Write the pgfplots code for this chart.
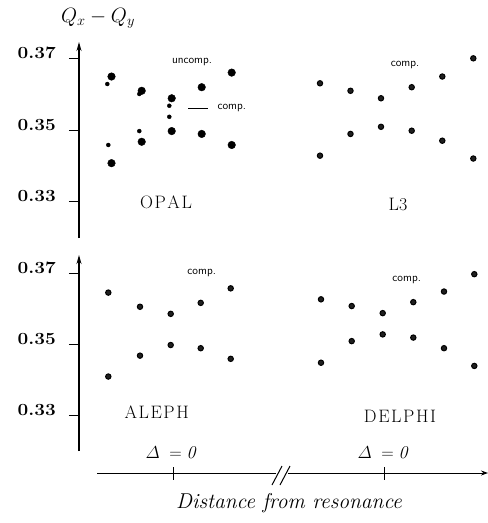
\documentclass[border=0pt]{standalone}
\usepackage{graphicx}
\usepackage{pgfplots}
\pgfplotsset{compat=1.18}
\usetikzlibrary{arrows.meta}
\newcommand\spc[1]{\kern1.6pt}
\begin{document}
\begin{tikzpicture}[x=1pt,y=1pt]
\useasboundingbox (0,0) rectangle (488,-523);
\pgfplotsset{
  panel/.style={
    scale only axis, width=409pt, height=196pt, xmin=79, xmax=488,
    axis x line=none, axis y line*=left,
    y axis line style={line width=1.1pt,-{Stealth[length=9pt,width=5pt]}},
    ytick={0.33,0.35,0.37},
    yticklabels={\scalebox{1.12}[1]{0.33},\scalebox{1.12}[1]{0.35},\scalebox{1.12}[1]{0.37}},
    tick align=outside, major tick length=10pt,
    ytick style={line width=1pt,black},
    yticklabel style={font=\fontsize{17}{20}\selectfont\bfseries, anchor=base east, inner sep=0pt, xshift=-13pt},
    clip=false},
  big/.style={only marks, mark=*, mark size=3.8pt, black},
  small/.style={only marks, mark=*, mark size=2.0pt, black},
  dot/.style={only marks, mark=*, mark size=2.7pt, black, mark options={fill=black!88, draw=black, line width=1pt}},
}
% ---------- top panel: OPAL and L3 ----------
\begin{axis}[panel, at={(79pt,-238pt)}, anchor=south west, ymin=0.31971, ymax=0.37468]
  % OPAL uncompensated
  \addplot[big] coordinates {(111.5,0.3650)(111.5,0.3407)(141.7,0.3610)(141.7,0.3467)(171.7,0.3589)(171.7,0.3497)(201.7,0.3620)(201.7,0.3489)(231.7,0.3661)(231.7,0.3458)};
  % OPAL compensated
  \addplot[small] coordinates {(107.3,0.3629)(108.3,0.3458)(139.3,0.3601)(139.3,0.3497)(169.3,0.3568)(169.3,0.3537)};
  % L3 compensated
  \addplot[dot] coordinates {(320,0.3631)(350.5,0.3610)(381,0.3589)(411.7,0.3620)(442.3,0.3650)(473.3,0.3701)
                             (320,0.3428)(350.5,0.3489)(381,0.3509)(411.7,0.3498)(442.3,0.3470)(473.3,0.3420)};
\end{axis}
% ---------- bottom panel: ALEPH and DELPHI ----------
\begin{axis}[panel, at={(79pt,-451pt)}, anchor=south west, ymin=0.31988, ymax=0.37521]
  \addplot[dot] coordinates {(108.3,0.3646)(140,0.3606)(170.7,0.3586)(200.7,0.3617)(230.7,0.3658)
                             (108.3,0.3409)(140,0.3468)(170.7,0.3498)(200.7,0.3489)(230.7,0.3459)};
  \addplot[dot] coordinates {(321,0.3627)(351.7,0.3608)(382.7,0.3588)(413.3,0.3619)(444,0.3649)(474.3,0.3698)
                             (321,0.3448)(351.7,0.3509)(382.7,0.3528)(413.3,0.3519)(444,0.3489)(474.3,0.3439)};
\end{axis}
% ---------- labels ----------
\node[font=\fontsize{19.5}{23}\selectfont] at (98,-18) {$Q_x - Q_y$};
\node[font=\fontsize{11.5}{13}\selectfont\sffamily] at (192,-62) {uncomp.};
\draw[line width=0.8pt] (188,-108) -- (208,-108);
\node[font=\fontsize{11.5}{13}\selectfont\sffamily, anchor=west] at (214,-108) {comp.};
\node[font=\fontsize{11.5}{13}\selectfont\sffamily] at (405,-65) {comp.};
\node[font=\fontsize{11.5}{13}\selectfont\sffamily] at (201.7,-273) {comp.};
\node[font=\fontsize{11.5}{13}\selectfont\sffamily] at (406.7,-280) {comp.};
\node[font=\fontsize{18}{21}\selectfont] at (166,-202) {O\spc{}P\spc{}A\spc{}L};
\node[font=\fontsize{18}{21}\selectfont] at (398,-204) {L3};
\node[font=\fontsize{18}{21}\selectfont] at (156.7,-411.7) {A\spc{}L\spc{}E\spc{}P\spc{}H};
\node[font=\fontsize{18}{21}\selectfont] at (400,-416) {D\spc{}E\spc{}L\spc{}P\spc{}H\spc{}I};
% ---------- horizontal axis with break ----------
\draw[line width=1pt] (97,-473) -- (276,-473);
\draw[line width=1pt,-{Stealth[length=7pt,width=5pt]}] (288,-473) -- (488,-473);
\draw[line width=1pt] (272,-485) -- (282,-466);
\draw[line width=1pt] (280,-485) -- (290,-466);
\draw[line width=1pt] (173,-467) -- (173,-480);
\draw[line width=1pt] (384,-467) -- (384,-480);
\node[font=\fontsize{18}{21}\selectfont] at (171,-453) {$\mathnormal{\Delta} \;=\; $\textit{0}};
\node[font=\fontsize{18}{21}\selectfont] at (383,-453) {$\mathnormal{\Delta} \;=\; $\textit{0}};
\node[font=\fontsize{21.5}{25}\selectfont\itshape] at (289,-503) {Distance from resonance};
\end{tikzpicture}
\end{document}
